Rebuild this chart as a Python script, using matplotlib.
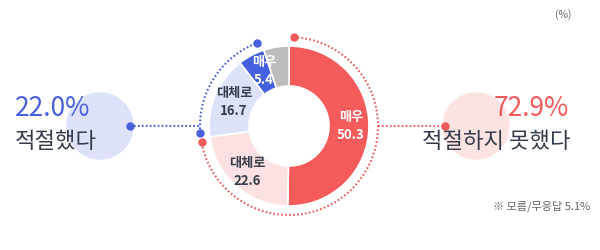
import numpy as np
import matplotlib.pyplot as plt

plt.rcParams['font.family'] = ['Noto Sans CJK KR', 'DejaVu Sans']

# 응답 비율 (%)
labels = ['매우', '대체로', '대체로', '매우', '모름/무응답']
values = [50.3, 22.6, 16.7, 5.4, 5.1]
colors = ['#f65b5c', '#fde0e1', '#dce2f8', '#4661e0', '#bdbdbd']
text_colors = ['white', '#333d4b', '#333d4b', 'white', None]

group_names = ['적절하지 못했다', '적절했다']
group_values = [72.9, 22.0]
group_colors = ['#f0595a', '#4a5fdd']
group_bg = ['#fde2e2', '#dde1fa']
etc_value = 5.1

W, H = 600, 250
cx, cy = 289, H - 126
R, width = 80, 40
DOTS = (0, (0.8, 1.1))

fig = plt.figure(figsize=(6, 2.5), dpi=100)
ax = fig.add_axes([0, 0, 1, 1])

ax.pie(values, colors=colors, startangle=90, counterclock=False,
       center=(cx, cy), radius=R,
       wedgeprops=dict(width=width, edgecolor='white', linewidth=1.2))

# 조각 안 라벨
label_pos = [(351, 126), (247, 172), (234, 102), (264, 71)]
for lab, v, tc, (x, y) in zip(labels, values, text_colors, label_pos):
    if tc is None:
        continue
    ax.text(x, H - y, f'{lab}\n{v}', ha='center', va='center',
            color=tc, fontsize=9.5, fontweight='bold', linespacing=1.45)

# 점선 호
r_arc = 89
start = 90
spans = []
for gv in group_values:
    spans.append((start, start - gv * 3.6))
    start -= gv * 3.6
margin = 3
for (a0, a1), gc in zip(spans, group_colors):
    th = np.radians(np.linspace(a0 - margin, a1 + margin, 200))
    ax.plot(cx + r_arc * np.cos(th), cy + r_arc * np.sin(th), color=gc,
            linestyle=DOTS, linewidth=1.5)
    ax.plot([cx + r_arc * np.cos(th[0])], [cy + r_arc * np.sin(th[0])], 'o',
            color=gc, markersize=5)
    ax.plot([cx + r_arc * np.cos(th[-1])], [cy + r_arc * np.sin(th[-1])], 'o',
            color=gc, markersize=5)

# 좌우 원과 연결선
ax.add_patch(plt.Circle((100, cy), 33, color=group_bg[1], zorder=0))
ax.add_patch(plt.Circle((476, cy), 33, color=group_bg[0], zorder=0))
ax.plot([130, cx - r_arc], [cy, cy], color=group_colors[1],
        linestyle=DOTS, linewidth=1.5)
ax.plot([130], [cy], 'o', color=group_colors[1], markersize=5)
ax.plot([cx + r_arc, 445], [cy, cy], color=group_colors[0],
        linestyle=DOTS, linewidth=1.5)
ax.plot([445], [cy], 'o', color=group_colors[0], markersize=5)

ax.text(15, H - 108, f'{group_values[1]:.1f}%', color=group_colors[1],
        fontsize=19, va='center', ha='left')
ax.text(15, H - 141, group_names[1], color='#333d4b',
        fontsize=16, va='center', ha='left')
ax.text(569, H - 108, f'{group_values[0]:.1f}%', color=group_colors[0],
        fontsize=19, va='center', ha='right')
ax.text(571, H - 141, group_names[0], color='#333d4b',
        fontsize=16, va='center', ha='right')

ax.text(590, H - 206, f'※ 모름/무응답 {etc_value}%', color='#666666',
        fontsize=8, va='center', ha='right')
ax.text(572, H - 15, '(%)', color='#666666', fontsize=7.5,
        va='center', ha='right')

ax.set_xlim(0, W)
ax.set_ylim(0, H)
ax.set_aspect('equal')
ax.axis('off')

fig.savefig('out.png', dpi=100)
